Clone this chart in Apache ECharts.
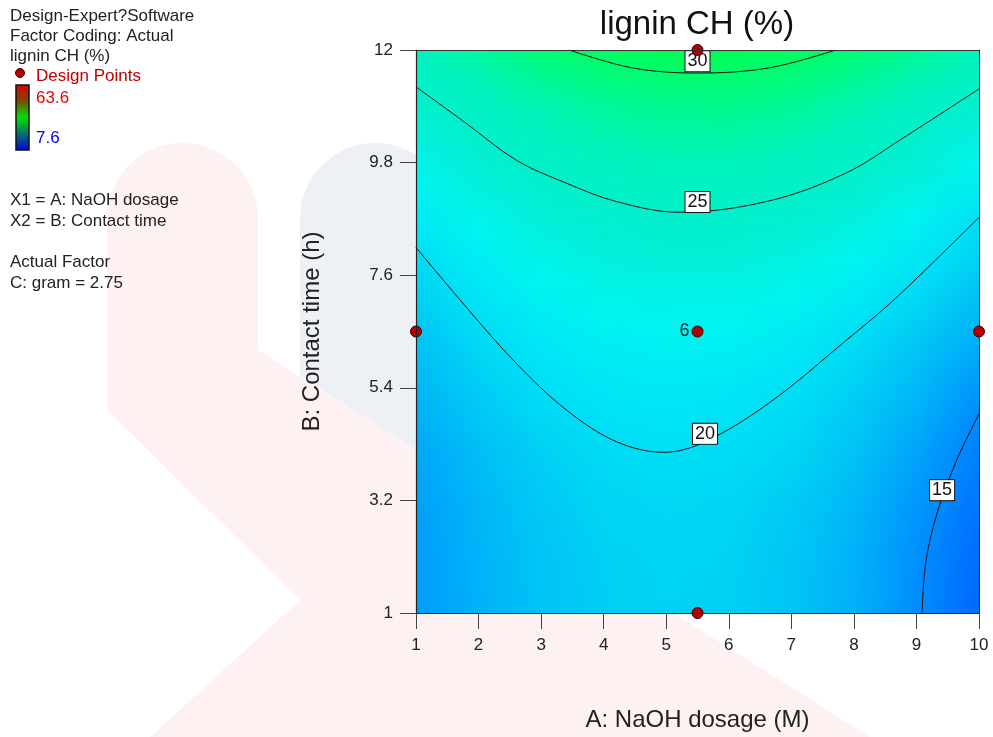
<!DOCTYPE html>
<html>
<head>
<meta charset="UTF-8">
<title>lignin CH (%)</title>
<script src="https://cdn.jsdelivr.net/npm/echarts@6/dist/echarts.min.js"></script>
<style>
  html, body { margin: 0; padding: 0; background: #fff; }
  #main { width: 993px; height: 737px; }
</style>
</head>
<body>
<div id="main"></div>
<script>
// grid nodes of the response surface (A: NaOH dosage, B: Contact time)
var naohLevels = [1, 2, 3, 4, 5, 6, 7, 8, 9, 10];
var timeLevels = [1, 2.1, 3.2, 4.3, 5.4, 6.5, 7.6, 8.7, 9.8, 10.9, 12];
var timeTicks = [1, 3.2, 5.4, 7.6, 9.8, 12];

// lignin CH (%) at each node, one row per contact time
var ligninGrid = [
  [16.0, 17.1, 18.1, 18.8, 19.0, 18.9, 18.2, 17.0, 15.3, 13.2],
  [16.0, 17.2, 18.2, 18.9, 19.15, 19.0, 18.3, 17.1, 15.4, 13.4],
  [16.2, 17.4, 18.5, 19.2, 19.45, 19.3, 18.6, 17.5, 15.8, 13.9],
  [16.6, 17.9, 19.0, 19.7, 20.05, 19.9, 19.3, 18.2, 16.5, 14.6],
  [17.3, 18.7, 19.9, 20.6, 20.8, 20.6, 20.0, 18.9, 17.5, 15.7],
  [18.2, 19.7, 20.9, 21.6, 21.9, 21.8, 21.1, 20.0, 18.6, 17.1],
  [19.3, 20.9, 22.1, 22.9, 23.2, 23.2, 22.6, 21.5, 20.1, 18.5],
  [20.9, 22.4, 23.6, 24.4, 24.8, 24.8, 24.3, 23.3, 21.9, 20.0],
  [22.6, 24.0, 25.3, 26.1, 26.5, 26.5, 26.0, 25.2, 23.9, 22.1],
  [24.4, 25.6, 26.9, 27.9, 28.5, 28.6, 28.1, 27.0, 25.6, 24.3],
  [26.3, 27.8, 29.6, 30.5, 31.0, 31.0, 30.6, 29.6, 28.2, 26.5]
];

// contour lines [NaOH, time]
var contour15 = [[9.09, 1], [9.11, 1.5], [9.15, 2.0], [9.23, 2.5], [9.33, 2.95], [9.47, 3.45],
                 [9.63, 3.95], [9.8, 4.4], [10, 4.89]];
var contour20 = [[1, 8.14], [1.8, 6.98], [2.6, 5.88], [3.4, 4.97], [4.2, 4.35], [4.96, 4.14],
                 [5.61, 4.34], [6.64, 5.1], [7.9, 6.35], [8.66, 7.14], [10, 8.73]];
var contour25 = [[1, 11.28], [1.8, 10.57], [2.6, 9.85], [3.4, 9.4], [4.2, 9.04], [5.2, 8.83],
                 [6.64, 9.05], [7.88, 9.6], [8.76, 10.26], [10, 11.24]];
var contour30 = [[3.45, 12], [4.46, 11.65], [5.5, 11.55], [6.64, 11.65], [7.71, 12]];
var contourLabels = [[5.5, 11.78, '30'], [5.5, 9.03, '25'], [5.62, 4.5, '20'], [9.41, 3.4, '15']];

var designPoints = [[1, 6.5], [5.5, 6.5], [10, 6.5], [5.5, 1], [5.5, 12]];
var centerRuns = 6;
var rangeMax = 63.6, rangeMin = 7.6;

// colour scale used by Design-Expert for the surface
var colorScale = [
  [7.6, '#0000ff'], [13, '#0064ff'], [15, '#0088ff'], [17, '#00b0f8'], [19, '#00d2f4'],
  [20.5, '#00e6f6'], [22, '#00f4f0'], [24, '#04eed4'], [26.5, '#00f4bc'], [28.5, '#00f890'],
  [30, '#00fc6c'], [31.5, '#00ff4c'], [36, '#00ff00'], [50, '#ffff00'], [63.6, '#ff0000']
];
var font = '"Liberation Sans", Arial, sans-serif';

function valueColor(v) {
  for (var i = 1; i < colorScale.length; i++) {
    if (v <= colorScale[i][0] || i === colorScale.length - 1) {
      var a = colorScale[i - 1], b = colorScale[i];
      var t = Math.max(0, Math.min(1, (v - a[0]) / (b[0] - a[0])));
      return echarts.color.lerp(t, [a[1], b[1]]);
    }
  }
}

function renderBand(params, api) {
  var j = params.dataIndex;
  var x0 = naohLevels[0], x1 = naohLevels[naohLevels.length - 1];
  var lo = api.coord([x0, timeLevels[j]]);
  var hi = api.coord([x1, timeLevels[j + 1]]);
  var n = 14;
  var h = (lo[1] - hi[1]) / n;
  var children = [];
  for (var k = 0; k < n; k++) {
    var t = (k + 0.5) / n;
    var stops = naohLevels.map(function (x, i) {
      var v = ligninGrid[j][i] * (1 - t) + ligninGrid[j + 1][i] * t;
      return { offset: (x - x0) / (x1 - x0), color: valueColor(v) };
    });
    children.push({
      type: 'rect',
      shape: { x: lo[0], y: lo[1] - (k + 1) * h, width: hi[0] - lo[0], height: h + 0.8 },
      style: { fill: { type: 'linear', x: 0, y: 0, x2: 1, y2: 0, colorStops: stops } }
    });
  }
  return { type: 'group', children: children };
}

// rounded-top column outline for the faint logo watermark
function archShape(left, right, top, tail) {
  var r = (right - left) / 2, cx = left + r, cy = top + r, pts = [];
  for (var a = 180; a <= 360; a += 6) {
    pts.push([cx + r * Math.cos(a * Math.PI / 180), cy + r * Math.sin(a * Math.PI / 180)]);
  }
  return pts.concat(tail);
}

function txt(text, x, y, color) {
  return {
    type: 'text', x: x, y: y, silent: true,
    style: { text: text, fill: color || '#222', font: '17px ' + font, textVerticalAlign: 'middle' }
  };
}

function contourSeries(data) {
  return {
    type: 'line', data: data, smooth: 0.35, symbol: 'none', z: 4,
    lineStyle: { color: '#111', width: 1 }, silent: true
  };
}

var myChart = echarts.init(document.getElementById('main'));
var option = {
  animation: false,
  grid: { left: 416, top: 50, width: 563, height: 563, show: false },
  graphic: [
    { type: 'polygon', silent: true,
      shape: { points: archShape(107, 258, 143, [[258, 350], [870, 737], [150, 737], [300, 600], [107, 410]]) },
      style: { fill: 'rgba(230,60,60,0.07)' } },
    { type: 'polygon', silent: true,
      shape: { points: archShape(300, 451, 143, [[451, 472], [300, 376]]) },
      style: { fill: 'rgba(80,120,170,0.1)' } },
    { type: 'text', x: 697, y: 25, silent: true,
      style: { text: 'lignin CH (%)', fill: '#111', font: '33px ' + font, textAlign: 'center', textVerticalAlign: 'middle' } },
    txt('Design-Expert?Software', 10, 16),
    txt('Factor Coding: Actual', 10, 36),
    txt('lignin CH (%)', 10, 56),
    { type: 'circle', silent: true, shape: { cx: 20, cy: 73, r: 4.5 }, style: { fill: '#b40000', stroke: '#300', lineWidth: 1 } },
    txt('Design Points', 36, 76, '#c00000'),
    { type: 'rect', silent: true, shape: { x: 16, y: 85, width: 13, height: 65 },
      style: { stroke: '#111', lineWidth: 1.5,
        fill: { type: 'linear', x: 0, y: 0, x2: 0, y2: 1, colorStops: [
          { offset: 0, color: '#e00000' }, { offset: 0.25, color: '#7a4a00' }, { offset: 0.5, color: '#00e000' },
          { offset: 0.75, color: '#007070' }, { offset: 1, color: '#0000e0' }] } } },
    txt(String(rangeMax), 36, 98, '#f00000'),
    txt(String(rangeMin), 36, 138, '#0000ff'),
    txt('X1 = A: NaOH dosage', 10, 200),
    txt('X2 = B: Contact time', 10, 221),
    txt('Actual Factor', 10, 262),
    txt('C: gram = 2.75', 10, 283)
  ],
  xAxis: [{
    type: 'value', min: 1, max: 10, interval: 1, position: 'bottom', z: 10,
    name: 'A: NaOH dosage (M)', nameLocation: 'middle', nameGap: 95,
    nameTextStyle: { fontSize: 24, color: '#222', fontFamily: font },
    axisLine: { show: true, onZero: false, lineStyle: { color: '#222', width: 1.2 } },
    axisTick: { show: true, length: 16, lineStyle: { color: '#444' } },
    axisLabel: { fontSize: 17, color: '#222', margin: 24, fontFamily: font },
    splitLine: { show: false }
  }, {
    type: 'value', min: 1, max: 10, position: 'top', z: 10,
    axisLine: { show: true, onZero: false, lineStyle: { color: '#333', width: 1 } },
    axisTick: { show: false }, axisLabel: { show: false }, splitLine: { show: false }
  }],
  yAxis: [{
    type: 'value', min: 1, max: 12, position: 'left', z: 10,
    name: 'B: Contact time (h)', nameLocation: 'middle', nameGap: 92, nameRotate: 90,
    nameTextStyle: { fontSize: 24, color: '#222', fontFamily: font },
    axisLine: { show: true, onZero: false, lineStyle: { color: '#222', width: 1.2 } },
    axisTick: { show: true, length: 16, customValues: timeTicks, lineStyle: { color: '#444' } },
    axisLabel: { fontSize: 17, color: '#222', margin: 23, fontFamily: font, customValues: timeTicks },
    splitLine: { show: false }
  }, {
    type: 'value', min: 1, max: 12, position: 'right', z: 10,
    axisLine: { show: true, onZero: false, lineStyle: { color: '#333', width: 1 } },
    axisTick: { show: false }, axisLabel: { show: false }, splitLine: { show: false }
  }],
  series: [
    {
      type: 'custom', z: 1, silent: true,
      encode: { x: [0, 2], y: [1, 3] },
      data: timeLevels.slice(0, -1).map(function (t, j) {
        return [naohLevels[0], t, naohLevels[naohLevels.length - 1], timeLevels[j + 1]];
      }),
      renderItem: renderBand
    },
    contourSeries(contour15),
    contourSeries(contour20),
    contourSeries(contour25),
    contourSeries(contour30),
    {
      type: 'scatter', data: contourLabels, symbolSize: 1, z: 5, silent: true,
      itemStyle: { color: 'rgba(0,0,0,0)', opacity: 1 },
      label: {
        show: true, position: 'inside', formatter: function (p) { return p.value[2]; },
        fontSize: 18, color: '#111', fontFamily: font,
        backgroundColor: '#fff', borderColor: '#111', borderWidth: 1, padding: [2, 2, 0, 2]
      }
    },
    {
      type: 'scatter', data: designPoints, symbolSize: 11, z: 6, clip: false, silent: true,
      itemStyle: { color: '#b40000', borderColor: '#300', borderWidth: 1, opacity: 1 },
      label: {
        show: true, position: 'left', distance: 2, fontSize: 18, color: '#222', fontFamily: font,
        formatter: function (p) { return p.dataIndex === 1 ? String(centerRuns) : ''; }
      }
    }
  ]
};
myChart.setOption(option);
</script>
</body>
</html>
